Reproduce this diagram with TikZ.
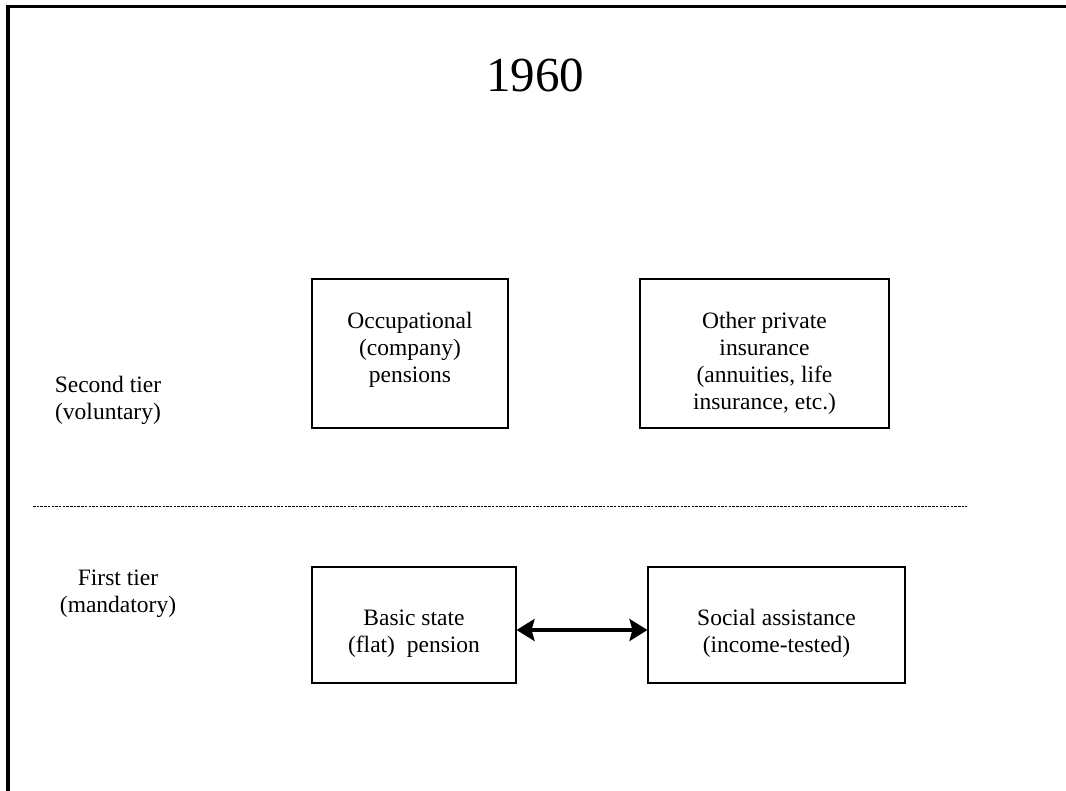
\documentclass[tikz,border=0pt]{standalone}
\usepackage{fontspec}
\setmainfont{Liberation Serif}
\usepackage{tikz}
\usetikzlibrary{arrows.meta}

\begin{document}
\begin{tikzpicture}[x=1pt,y=-1pt,
  box/.style={draw,line width=1.1pt,inner sep=0pt,align=center,
    font=\fontsize{23.5}{27}\selectfont},
  tier/.style={align=center,font=\fontsize{23.5}{27}\selectfont},
  link/.style={<->,>={Stealth[length=18pt,width=22pt,inset=3pt]},line width=3.2pt}]

  \useasboundingbox (0,0) rectangle (1066,791);
  % frame (top and left only)
  \draw[line width=3.5pt] (1066,6.5) -- (8,6.5) -- (8,791);

  \node (title) at (535,75) {\fontsize{49}{56}\selectfont 1960};

  \node[tier] (second) at (108,400) {Second tier\\(voluntary)};
  \node[tier] (first) at (118,594) {First tier\\(mandatory)};

  \node[box,minimum width=196pt,minimum height=149pt] (occ) at (410,353.5)
    {Occupational\\(company)\\pensions\\[-15pt]\mbox{}};
  \node[box,minimum width=249pt,minimum height=149pt] (priv) at (764.5,353.5)
    {\mbox{}\\[10pt]Other private\\insurance\\(annuities, life\\insurance, etc.)};
  \node[box,minimum width=204pt,minimum height=116pt] (basic) at (414,625)
    {\mbox{}\\[6pt]Basic state\\(flat)\ \ pension};
  \node[box,minimum width=257pt,minimum height=116pt] (social) at (776.5,625)
    {\mbox{}\\[6pt]Social assistance\\(income-tested)};

  % dividing line between the tiers
  \coordinate (dl) at (33,506);
  \coordinate (dr) at (967,506);
  \draw[line width=0.9pt,dash pattern=on 2.5pt off 1.2pt] (dl) -- (dr);

  \draw[link] ([yshift=-5pt]basic.east) -- ([yshift=-5pt]social.west);
\end{tikzpicture}
\end{document}
